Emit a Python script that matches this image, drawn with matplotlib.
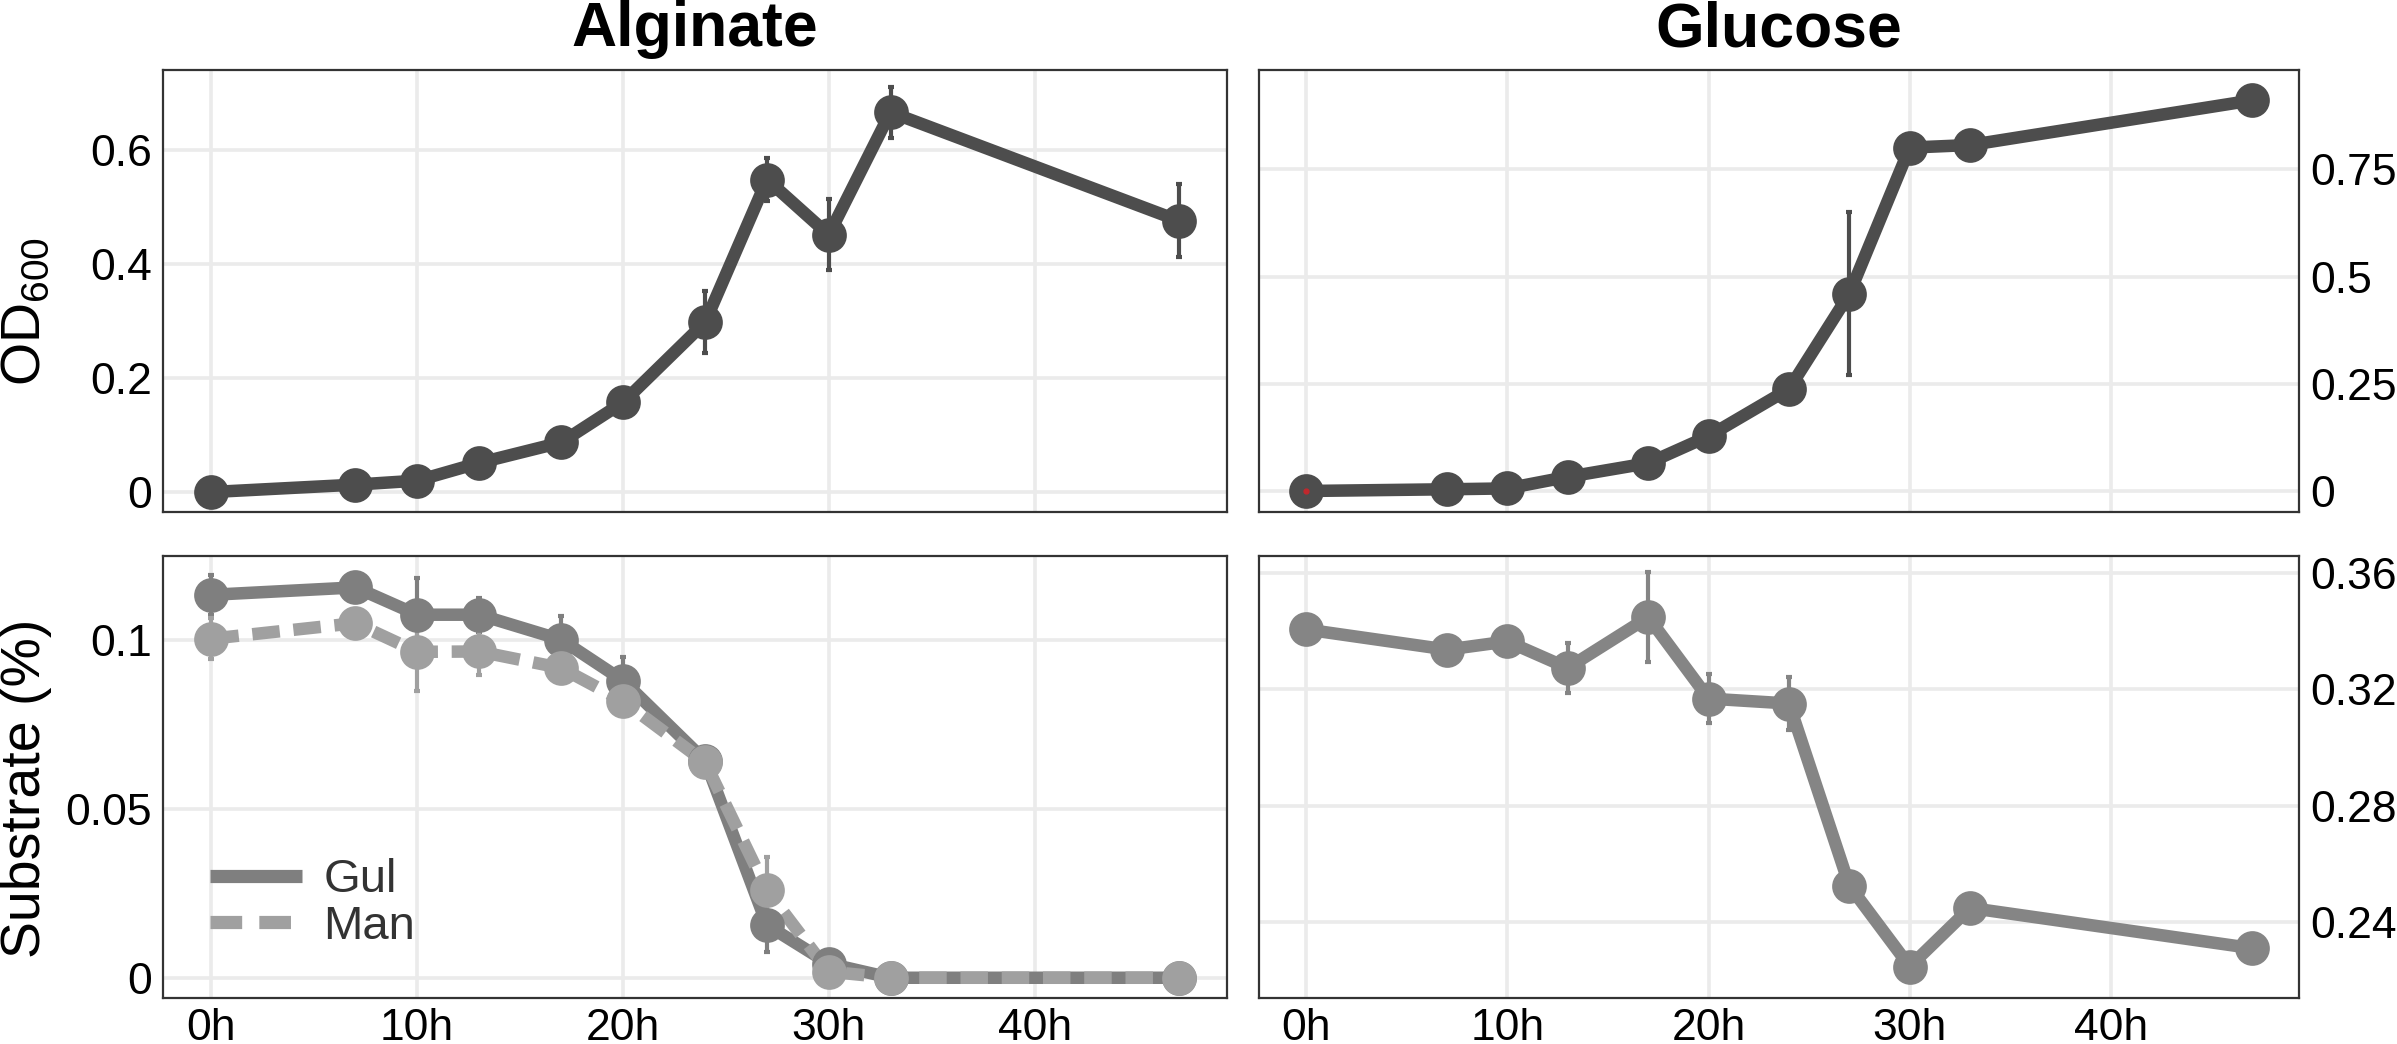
import matplotlib
matplotlib.use("Agg")
import matplotlib.pyplot as plt
from matplotlib.lines import Line2D

plt.rcParams['font.family'] = ['Liberation Sans', 'DejaVu Sans']
plt.rcParams['mathtext.fontset'] = 'custom'
plt.rcParams['mathtext.rm'] = 'Liberation Sans'

# sampling times (h)
hours = [0, 7, 10, 13, 17, 20, 24, 27, 30, 33, 47]
x_ticks = [0, 10, 20, 30, 40]
x_tick_labels = ['0h', '10h', '20h', '30h', '40h']

# OD600
alg_od = [0.0, 0.013, 0.02, 0.051, 0.087, 0.157, 0.298, 0.548, 0.451, 0.666, 0.476]
alg_od_err = [0.003, 0.004, 0.005, 0.006, 0.008, 0.02, 0.055, 0.037, 0.062, 0.045, 0.064]
glc_od = [0.0, 0.004, 0.006, 0.033, 0.065, 0.128, 0.238, 0.46, 0.801, 0.807, 0.911]
glc_od_err = [0.002, 0.003, 0.004, 0.005, 0.006, 0.008, 0.01, 0.19, 0.01, 0.012, 0.024]

# substrate (%)
gul = [0.1135, 0.1157, 0.1076, 0.1076, 0.1002, 0.0881, 0.0643, 0.0156, 0.0042, 0.0, 0.0]
gul_err = [0.006, 0.002, 0.011, 0.005, 0.007, 0.007, 0.003, 0.008, 0.002, 0.0, 0.0]
man = [0.1005, 0.1051, 0.0966, 0.0967, 0.0918, 0.082, 0.0638, 0.0259, 0.0018, 0.0, 0.0]
man_err = [0.006, 0.003, 0.0115, 0.007, 0.003, 0.003, 0.003, 0.01, 0.001, 0.0, 0.0]
glc_sub = [0.3405, 0.3336, 0.3364, 0.3273, 0.3447, 0.3168, 0.3151, 0.2526, 0.2249, 0.2450, 0.2312]
glc_sub_err = [0.002, 0.002, 0.003, 0.0086, 0.0155, 0.0083, 0.009, 0.003, 0.003, 0.003, 0.003]

W, H = 2397, 1044
fig = plt.figure(figsize=(W / 100, H / 100), dpi=100)

def px_axes(x0, y0, x1, y1):
    return fig.add_axes([x0 / W, 1 - y1 / H, (x1 - x0) / W, (y1 - y0) / H])

ax_tl = px_axes(163, 70, 1227, 512)
ax_tr = px_axes(1259, 70, 2299, 512)
ax_bl = px_axes(163, 556, 1227, 998)
ax_br = px_axes(1259, 556, 2299, 998)

LW = 9
MS = 25
TICK_FS = 32

def style(ax, yticks, ylabels, ylim, right=False, bottom=True):
    ax.set_xlim(-2.35, 49.35)
    ax.set_ylim(*ylim)
    ax.set_xticks(x_ticks)
    ax.set_yticks(yticks)
    ax.set_yticklabels(ylabels)
    if bottom:
        ax.set_xticklabels(x_tick_labels)
    else:
        ax.set_xticklabels([])
    ax.grid(True, color='#ebebeb', linewidth=2.6, zorder=0)
    ax.set_axisbelow(True)
    for sp in ax.spines.values():
        sp.set_color('#333333')
        sp.set_linewidth(1.6)
    ax.tick_params(axis='both', length=0, labelsize=TICK_FS, labelcolor='black')
    ax.tick_params(axis='x', pad=7)
    ax.tick_params(axis='y', pad=8)
    if right:
        ax.yaxis.tick_right()

def series(ax, y, err, color, ls='-'):
    ax.errorbar(hours, y, yerr=err, fmt='none', ecolor=color, elinewidth=3,
                capsize=2.5, capthick=3, zorder=2)
    ax.plot(hours, y, color=color, linewidth=LW, linestyle=ls,
            solid_capstyle='butt', dash_capstyle='butt', zorder=3)
    ax.plot(hours, y, 'o', color=color, markersize=MS, markeredgewidth=0, zorder=4)

series(ax_tl, alg_od, alg_od_err, '#4d4d4d')
series(ax_tr, glc_od, glc_od_err, '#4d4d4d')
ax_tr.plot(hours[0], glc_od[0], 'o', color='#c0282d', markersize=3.5, zorder=5)

series(ax_bl, gul, gul_err, '#7f7f7f')
series(ax_bl, man, man_err, '#a0a0a0', ls=(0, (2.2, 1.1)))
series(ax_br, glc_sub, glc_sub_err, '#858585')

style(ax_tl, [0, 0.2, 0.4, 0.6], ['0', '0.2', '0.4', '0.6'], (-0.035, 0.74), bottom=False)
style(ax_tr, [0, 0.25, 0.5, 0.75], ['0', '0.25', '0.5', '0.75'], (-0.049, 0.982), right=True, bottom=False)
style(ax_bl, [0, 0.05, 0.1], ['0', '0.05', '0.1'], (-0.006, 0.125))
style(ax_br, [0.24, 0.28, 0.32, 0.36], ['0.24', '0.28', '0.32', '0.36'], (0.2141, 0.3657), right=True)

ax_tl.set_title('Alginate', fontsize=45, fontweight='bold', pad=17)
ax_tr.set_title('Glucose', fontsize=45, fontweight='bold', pad=17)

fig.text(26 / W, 1 - 311 / H, r'OD$_{\mathrm{600}}$', rotation=90, fontsize=40,
         ha='center', va='center')
fig.text(26 / W, 1 - 788 / H, 'Substrate (%)', rotation=90, fontsize=40,
         ha='center', va='center')

handles = [Line2D([], [], color='#7f7f7f', linewidth=9.5, solid_capstyle='butt'),
           Line2D([], [], color='#a0a0a0', linewidth=9.5, linestyle=(0, (2.4, 1.3)),
                  dash_capstyle='butt')]
leg = ax_bl.legend(handles, ['Gul', 'Man'], loc='center left',
                   bbox_to_anchor=(0.044, 0.214), frameon=False, fontsize=34,
                   handlelength=1.95, handletextpad=0.45, labelspacing=0.05,
                   borderpad=0, borderaxespad=0)
for t in leg.get_texts():
    t.set_color('#333333')

fig.savefig('out.png', dpi=100)
